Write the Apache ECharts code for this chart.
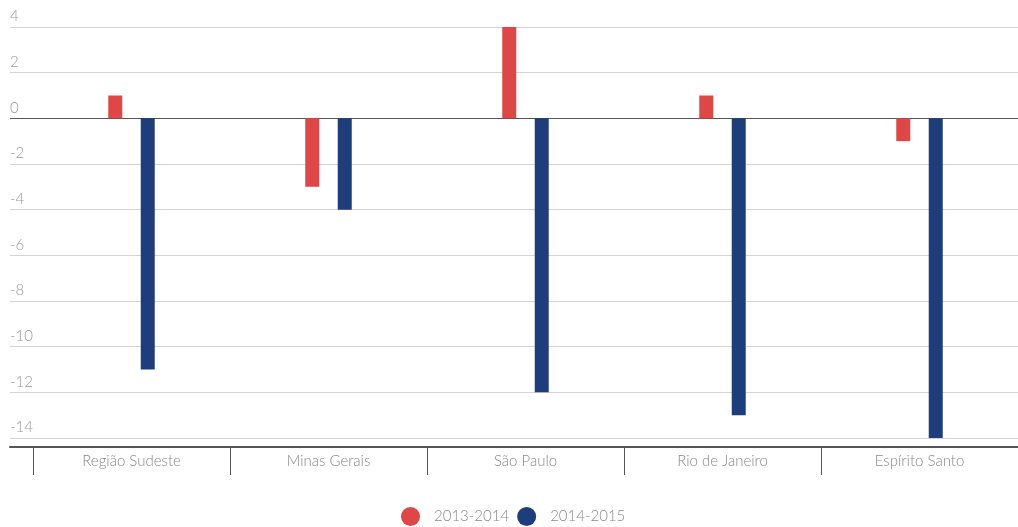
<!DOCTYPE html>
<html>
<head>
<meta charset="utf-8">
<script src="https://cdn.jsdelivr.net/npm/echarts@6/dist/echarts.min.js"></script>
<style>
  html,body{margin:0;padding:0;background:#fff;}
  #chart{width:1018px;height:527px;}
</style>
</head>
<body>
<div id="chart"></div>
<script>
var categories=['Região Sudeste','Minas Gerais','São Paulo','Rio de Janeiro','Espírito Santo'];
var serie1314=[1,-3,4,1,-1];
var serie1415=[-11,-4,-12,-13,-14];
var seriesNames=['2013-2014','2014-2015'];
var yMin=-14,yMax=4,yStep=2;

var chart=echarts.init(document.getElementById('chart'));
// linha do zero mais escura
var splitColors=[];
for(var v=yMin;v<=yMax;v+=yStep){
  splitColors.push(v===0?'#555':'#d4d4d4');
}
var fontFam='Lato, "Open Sans", sans-serif';
var option={
  animation:false,
  color:['#df4646','#1d3e7a'],
  legend:{
    top:502,
    left:396,
    icon:'circle',
    itemWidth:19,
    itemHeight:19,
    itemGap:8,
    textStyle:{color:'#888',fontSize:15,fontFamily:fontFam,fontWeight:300,padding:[0,0,0,9]},
    data:seriesNames
  },
  grid:[
    {left:10,right:0,top:27,bottom:89},
    {left:33,right:0,top:27,bottom:89}
  ],
  xAxis:[
    {
      gridIndex:0,type:'value',min:0,max:1,
      offset:9,
      axisLine:{show:true,onZero:false,lineStyle:{color:'#555',width:2}},
      axisTick:{show:false},axisLabel:{show:false},splitLine:{show:false}
    },
    {
      gridIndex:1,type:'category',data:categories,
      offset:9,
      axisLine:{show:false,onZero:false},
      axisTick:{show:true,length:28,interval:0,lineStyle:{color:'#555',width:1}},
      axisLabel:{color:'#888',fontSize:15,fontFamily:fontFam,fontWeight:300,margin:7}
    }
  ],
  yAxis:[
    {
      gridIndex:0,type:'value',min:yMin,max:yMax,interval:yStep,
      axisLine:{show:false},axisTick:{show:false},
      axisLabel:{inside:true,margin:0,align:'left',verticalAlign:'bottom',padding:[0,0,3,0],
        color:'#999',fontSize:15,fontFamily:fontFam,fontWeight:300},
      splitLine:{show:true,lineStyle:{color:splitColors,width:1}}
    },
    {
      gridIndex:1,type:'value',min:yMin,max:yMax,interval:yStep,
      axisLine:{show:false},axisTick:{show:false},axisLabel:{show:false},splitLine:{show:false}
    }
  ],
  series:[
    {name:seriesNames[0],type:'bar',xAxisIndex:1,yAxisIndex:1,data:serie1314,barWidth:14,barGap:'132%'},
    {name:seriesNames[1],type:'bar',xAxisIndex:1,yAxisIndex:1,data:serie1415,barWidth:14,barGap:'132%'}
  ]
};
chart.setOption(option);
</script>
</body>
</html>
